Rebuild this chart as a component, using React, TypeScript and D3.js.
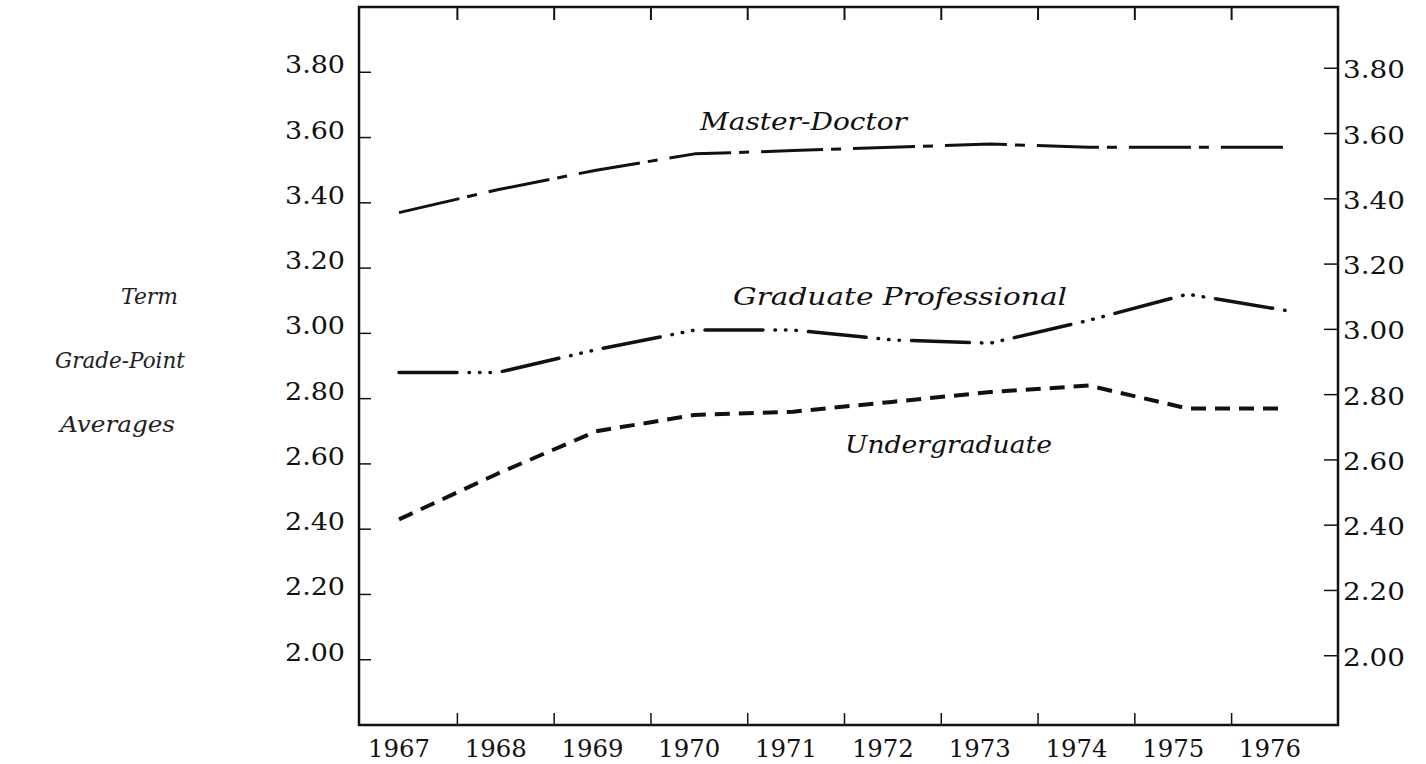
import * as d3 from 'd3';
import React, { useEffect, useRef } from 'react';

const years = ['1967', '1968', '1969', '1970', '1971', '1972', '1973', '1974', '1975', '1976'];
const masterDoctor = [3.37, 3.44, 3.5, 3.55, 3.56, 3.57, 3.58, 3.57, 3.57, 3.57];
const gradProfessional = [2.88, 2.88, 2.95, 3.01, 3.01, 2.98, 2.97, 3.04, 3.12, 3.07];
const undergraduate = [2.43, 2.57, 2.7, 2.75, 2.76, 2.79, 2.82, 2.84, 2.77, 2.77];
const yTicks = [2.0, 2.2, 2.4, 2.6, 2.8, 3.0, 3.2, 3.4, 3.6, 3.8];
const axisTitle = ['Term', 'Grade-Point', 'Averages'];

const serif = '"DejaVu Serif", "Liberation Serif", serif';

const App: React.FC = () => {
  const ref = useRef<SVGSVGElement>(null);

  useEffect(() => {
    if (!ref.current) return;
    const width = 1426;
    const height = 764;
    const left = 359;
    const right = 1338;
    const top = 7;
    const bottom = 725;

    const svg = d3.select(ref.current);
    svg.selectAll('*').remove();
    svg.attr('width', width).attr('height', height);

    const y = d3.scaleLinear().domain([1.8, 4.0]).range([bottom, top]);
    // labels and data points sit on slightly different spacings in the original
    const xLabel = d3.scalePoint<string>().domain(years).range([399, 1270]);
    const xData = d3.scalePoint<string>().domain(years).range([399, 1286]);

    // frame
    svg.append('rect')
      .attr('x', left).attr('y', top)
      .attr('width', right - left).attr('height', bottom - top)
      .attr('fill', 'none').attr('stroke', '#111').attr('stroke-width', 2.5);

    // year separators on top and bottom
    const step = xLabel.step();
    const sep = years.slice(0, -1).map(yr => (xLabel(yr) as number) + step / 2 + 10);
    svg.selectAll('.tick-top').data(sep).enter().append('line')
      .attr('x1', d => d).attr('x2', d => d)
      .attr('y1', top).attr('y2', top + 13)
      .attr('stroke', '#111').attr('stroke-width', 2);
    svg.selectAll('.tick-bottom').data(sep).enter().append('line')
      .attr('x1', d => d).attr('x2', d => d)
      .attr('y1', bottom).attr('y2', bottom - 12)
      .attr('stroke', '#111').attr('stroke-width', 1.5);

    svg.selectAll('.year').data(years).enter().append('text')
      .attr('x', d => xLabel(d) as number)
      .attr('y', 757)
      .attr('text-anchor', 'middle')
      .attr('font-family', serif)
      .attr('font-size', 25)
      .attr('textLength', 62)
      .attr('lengthAdjust', 'spacingAndGlyphs')
      .attr('fill', '#111')
      .text(d => d);

    // y ticks, left and right
    svg.selectAll('.ltick').data(yTicks).enter().append('line')
      .attr('x1', left).attr('x2', left + 12)
      .attr('y1', d => y(d)).attr('y2', d => y(d))
      .attr('stroke', '#111').attr('stroke-width', 1.5);
    svg.selectAll('.llabel').data(yTicks).enter().append('text')
      .attr('x', 345).attr('y', d => y(d) + 1)
      .attr('text-anchor', 'end')
      .attr('font-family', serif).attr('font-size', 25)
      .attr('textLength', 60).attr('lengthAdjust', 'spacingAndGlyphs')
      .attr('fill', '#111')
      .text(d => d.toFixed(2));
    svg.selectAll('.rtick').data(yTicks).enter().append('line')
      .attr('x1', right - 14).attr('x2', right)
      .attr('y1', d => y(d) - 4).attr('y2', d => y(d) - 4)
      .attr('stroke', '#111').attr('stroke-width', 1.5);
    svg.selectAll('.rlabel').data(yTicks).enter().append('text')
      .attr('x', 1343).attr('y', d => y(d) + 6)
      .attr('font-family', serif).attr('font-size', 25)
      .attr('textLength', 62).attr('lengthAdjust', 'spacingAndGlyphs')
      .attr('fill', '#111')
      .text(d => d.toFixed(2));

    // series
    const series = [
      { name: 'Master-Doctor', values: masterDoctor, dash: '62 8 10 12', width: 3, cap: 'butt' },
      { name: 'Graduate Professional', values: gradProfessional, dash: '58 12 0.5 10 0.5 10 0.5 12', width: 3.5, cap: 'round' },
      { name: 'Undergraduate', values: undergraduate, dash: '15 9', width: 4, cap: 'butt' },
    ];
    const line = d3.line<number>()
      .x((_, i) => xData(years[i]) as number)
      .y(d => y(d));
    svg.selectAll('.series').data(series).enter().append('path')
      .attr('d', d => line(d.values))
      .attr('fill', 'none')
      .attr('stroke', '#111')
      .attr('stroke-width', d => d.width)
      .attr('stroke-linecap', d => d.cap)
      .attr('stroke-linejoin', 'round')
      .attr('stroke-dasharray', d => d.dash);

    // series labels
    const seriesLabels = [
      { text: 'Master-Doctor', x: 700, y: 130, len: 207 },
      { text: 'Graduate Professional', x: 733, y: 305, len: 334 },
      { text: 'Undergraduate', x: 845, y: 453, len: 207 },
    ];
    svg.selectAll('.slabel').data(seriesLabels).enter().append('text')
      .attr('x', d => d.x).attr('y', d => d.y)
      .attr('font-family', serif).attr('font-style', 'italic')
      .attr('font-size', 24)
      .attr('textLength', d => d.len).attr('lengthAdjust', 'spacingAndGlyphs')
      .attr('fill', '#111')
      .text(d => d.text);

    // axis title
    const titlePos = [
      { x: 121, y: 304, len: 57 },
      { x: 55, y: 368, len: 130 },
      { x: 60, y: 432, len: 115 },
    ];
    svg.selectAll('.title').data(axisTitle).enter().append('text')
      .attr('x', (_, i) => titlePos[i].x)
      .attr('y', (_, i) => titlePos[i].y)
      .attr('font-family', serif).attr('font-style', 'italic')
      .attr('font-size', 22)
      .attr('textLength', (_, i) => titlePos[i].len).attr('lengthAdjust', 'spacingAndGlyphs')
      .attr('fill', '#222')
      .text(d => d);
  }, []);

  return (
    <svg ref={ref} style={{ position: 'absolute', left: 0, top: 0, background: '#fff' }} />
  );
};

export default App;
